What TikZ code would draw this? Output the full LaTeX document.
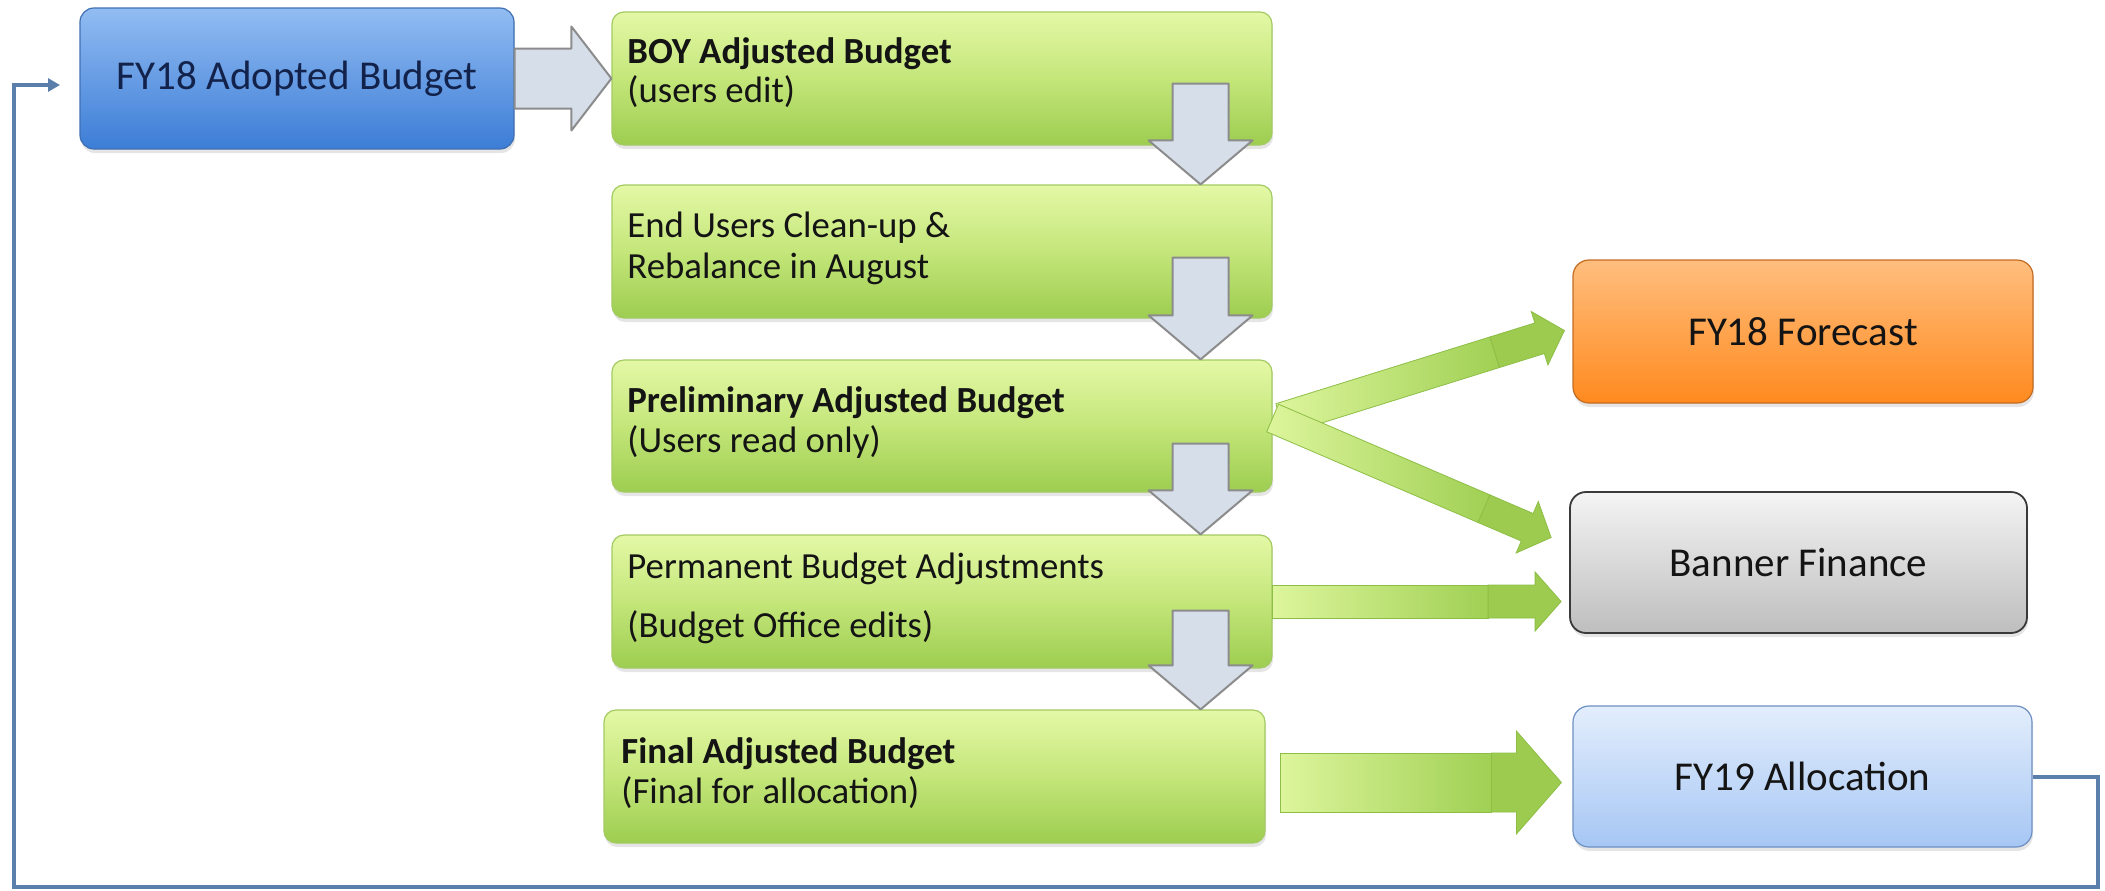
\documentclass[tikz,border=0pt]{standalone}
\usepackage{fontspec}
\setmainfont{Carlito}
\usetikzlibrary{calc,shadows,arrows.meta}

\definecolor{gTop}{HTML}{E4F8A6}
\definecolor{gMid}{HTML}{C4E67A}
\definecolor{gBot}{HTML}{9DCD50}
\definecolor{gLine}{HTML}{A3CB62}
\definecolor{bTop}{HTML}{92BCF2}
\definecolor{bBot}{HTML}{3C7DD6}
\definecolor{bLine}{HTML}{3F70B2}
\definecolor{bText}{HTML}{13224A}
\definecolor{oTop}{HTML}{FFBE7E}
\definecolor{oBot}{HTML}{FF8A1F}
\definecolor{oLine}{HTML}{C46C22}
\definecolor{sTop}{HTML}{F4F4F4}
\definecolor{sBot}{HTML}{BEBEBE}
\definecolor{sLine}{HTML}{3A3A3A}
\definecolor{lTop}{HTML}{E3EEFC}
\definecolor{lBot}{HTML}{A6C6F4}
\definecolor{lLine}{HTML}{6E90C3}
\definecolor{arrFill}{HTML}{D6DEE9}
\definecolor{arrLine}{HTML}{8C8C8C}
\definecolor{garrA}{HTML}{DDF59C}
\definecolor{garrB}{HTML}{A0D054}
\definecolor{garrC}{HTML}{9CCB4F}
\definecolor{garrEdge}{HTML}{8DBE45}
\definecolor{loopBlue}{HTML}{5A7FAB}
\definecolor{ink}{HTML}{141414}

% block arrow: from, to, body half width, head half width, head length
\newcommand\greyarrow[5]{%
  \coordinate (ya-h) at ($(#2)!#5!(#1)$);
  \filldraw[fill=arrFill, draw=arrLine, line width=1pt, line join=round]
    ($(#1)!#3!90:(#2)$) -- ($(ya-h)!#3!-90:(#1)$) -- ($(ya-h)!#4!-90:(#1)$) -- (#2)
    -- ($(ya-h)!#4!90:(#1)$) -- ($(ya-h)!#3!90:(#1)$) -- ($(#1)!#3!-90:(#2)$) -- cycle;
}
% green arrow: from, to, body half width, head half width, head length, solid part before head
\newcommand\greenarrow[6]{%
  \coordinate (ga-h) at ($(#2)!#5!(#1)$);
  \coordinate (ga-s) at ($(ga-h)!#6!(#1)$);
  \shade[left color=garrA, right color=garrB, draw=garrEdge, line width=0.4pt]
    ($(#1)!#3!90:(#2)$) -- ($(ga-s)!#3!-90:(#1)$) -- ($(ga-s)!#3!90:(#1)$) -- ($(#1)!#3!-90:(#2)$) -- cycle;
  \filldraw[fill=garrC, draw=garrEdge, line width=0.4pt]
    ($(ga-s)!#3!-90:(#1)$) -- ($(ga-h)!#3!-90:(#1)$) -- ($(ga-h)!#4!-90:(#1)$) -- (#2)
    -- ($(ga-h)!#4!90:(#1)$) -- ($(ga-h)!#3!90:(#1)$) -- ($(ga-s)!#3!90:(#1)$) -- cycle;
}

\begin{document}
\begin{tikzpicture}[x=0.5pt,y=-0.5pt,
  box/.style={rounded corners=7pt, inner sep=0pt, line width=0.6pt,
    drop shadow={shadow xshift=0.5pt, shadow yshift=-2pt, opacity=0.2}},
  gbox/.style={box, rounded corners=6pt, top color=gTop, bottom color=gBot, middle color=gMid,
    draw=gLine, minimum width=330pt, minimum height=66.5pt},
  bigtext/.style={font=\fontsize{20.5pt}{24pt}\selectfont, text=ink},
  gtext/.style={anchor=base west, inner sep=0pt, text=ink, font=\fontsize{18.4pt}{22pt}\selectfont},
  loopline/.style={draw=loopBlue, line width=2pt, line join=miter,
    -{Triangle[length=6pt,width=6.5pt]}}
]
\fill[white] (0,0) rectangle (2105,890);
\useasboundingbox (0,0) rectangle (2105,890);

% starting budget
\node[box, top color=bTop, bottom color=bBot, draw=bLine, minimum width=217pt, minimum height=70.5pt,
  bigtext, text=bText] (adopt) at (297,78.5) {FY18 Adopted Budget};

% main column of stages
\node[gbox] (boy) at (942,78.5) {};
\node[gbox] (eu) at (942,251.5) {};
\node[gbox, minimum height=66pt] (prelim) at (942,426) {};
\node[gbox] (perm) at (942,601.5) {};
\node[gbox, minimum width=330.5pt] (final) at (934.5,776.5) {};

\node[gtext] (boyA) at (627,63) {\textbf{BOY Adjusted Budget}};
\node[gtext] (boyB) at (627,102) {(users edit)};
\node[gtext] (euA) at (627,237) {End Users Clean-up \&};
\node[gtext] (euB) at (627,278) {Rebalance in August};
\node[gtext] (prA) at (627,412) {\textbf{Preliminary Adjusted Budget}};
\node[gtext] (prB) at (627,452) {(Users read only)};
\node[gtext] (pmA) at (627,578) {Permanent Budget Adjustments};
\node[gtext] (pmB) at (627,637) {(Budget Office edits)};
\node[gtext] (fiA) at (621,763) {\textbf{Final Adjusted Budget}};
\node[gtext] (fiB) at (621,803) {(Final for allocation)};

% outputs
\node[box, rounded corners=8pt, top color=oTop, bottom color=oBot, draw=oLine, minimum width=230pt,
  minimum height=71.5pt, bigtext] (fc) at (1803,331.5) {FY18 Forecast};
\node[box, rounded corners=8pt, top color=sTop, bottom color=sBot, draw=sLine, line width=0.9pt,
  minimum width=228.5pt, minimum height=70.5pt, bigtext] (bf) at (1798.5,562.5) {Banner Finance};
\node[box, rounded corners=8pt, top color=lTop, bottom color=lBot, draw=lLine, minimum width=229.5pt,
  minimum height=70.5pt, bigtext] (fy) at (1802.5,776.5) {FY19 Allocation};

% grey block arrows
\greyarrow{adopt.east}{boy.west}{15pt}{26pt}{20pt}
\coordinate (d1s) at ($(boy.south east)+(-72,-62)$);
\coordinate (d1e) at ($(eu.north east)+(-72,0)$);
\coordinate (d2s) at ($(eu.south east)+(-72,-61)$);
\coordinate (d2e) at ($(prelim.north east)+(-72,0)$);
\coordinate (d3s) at ($(prelim.south east)+(-72,-49)$);
\coordinate (d3e) at ($(perm.north east)+(-72,0)$);
\coordinate (d4s) at ($(perm.south east)+(-72,-58)$);
\coordinate (d4e) at ($(final.north east)+(-65,0)$);
\greyarrow{d1s}{d1e}{14pt}{26pt}{22pt}
\greyarrow{d2s}{d2e}{14pt}{26pt}{22pt}
\greyarrow{d3s}{d3e}{14pt}{26pt}{22pt}
\greyarrow{d4s}{d4e}{14pt}{26pt}{22pt}

% green arrows to the outputs
\coordinate (aS) at ($(prelim.east)+(8,-7)$);
\coordinate (aE) at ($(fc.west)+(-8,-1)$);
\coordinate (bS) at ($(prelim.east)+(0,-8)$);
\coordinate (bE) at ($(bf.west)+(-18,-25)$);
\coordinate (cS) at (perm.east);
\coordinate (cE) at ($(perm.east -| bf.west)+(-8,0)$);
\coordinate (dS) at ($(final.east)+(15,6)$);
\coordinate (dE) at ($(final.east -| fy.west)+(-11,6)$);
\greenarrow{aS}{aE}{8pt}{14pt}{13pt}{23.5pt}
\greenarrow{bS}{bE}{7.5pt}{14pt}{13pt}{23.5pt}
\greenarrow{cS}{cE}{8.25pt}{14.75pt}{13pt}{23.5pt}
\greenarrow{dS}{dE}{14.75pt}{25.75pt}{22.5pt}{12.5pt}

% return loop to the next cycle
\coordinate (loopL) at (14,887);
\coordinate (loopIn) at (60,85);
\draw[loopline] (fy.east) -- ++(65,0) |- (loopL) |- (loopIn);
\end{tikzpicture}
\end{document}
